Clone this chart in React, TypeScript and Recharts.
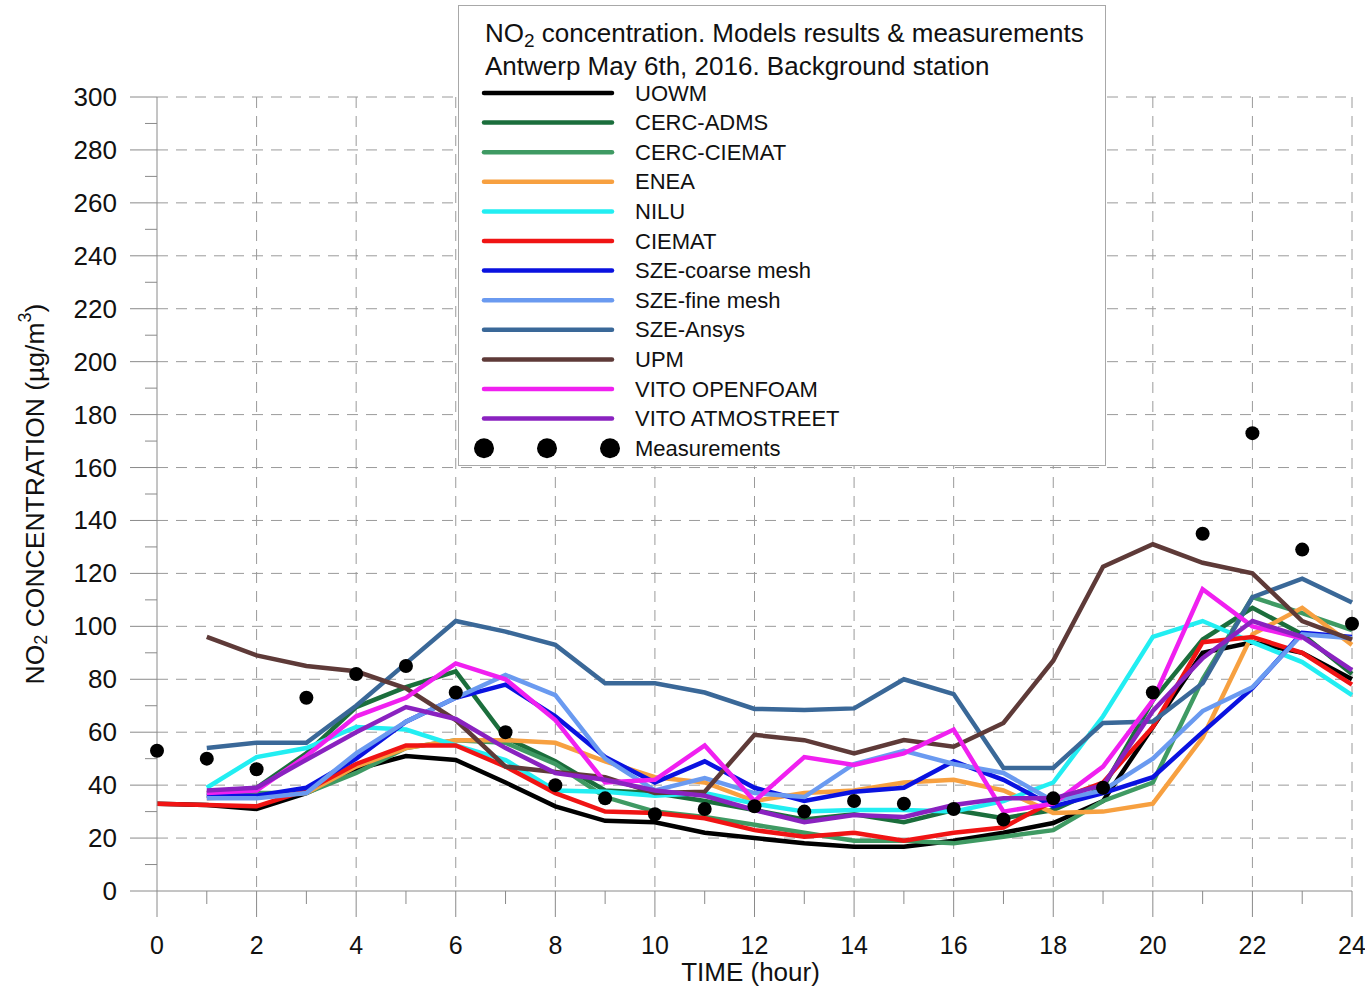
import { ComposedChart, Line, XAxis, YAxis, CartesianGrid, Legend } from "recharts";

const hours = [0, 1, 2, 3, 4, 5, 6, 7, 8, 9, 10, 11, 12, 13, 14, 15, 16, 17, 18, 19, 20, 21, 22, 23, 24];
const yTicks = [0, 10, 20, 30, 40, 50, 60, 70, 80, 90, 100, 110, 120, 130, 140, 150, 160, 170, 180, 190, 200, 210, 220, 230, 240, 250, 260, 270, 280, 290, 300];
const gridY = [20, 40, 60, 80, 100, 120, 140, 160, 180, 200, 220, 240, 260, 280, 300];
const gridX = [2, 4, 6, 8, 10, 12, 14, 16, 18, 20, 22, 24];

// model results, µg/m3, one value per hour (null = no value)
const uowm = [33, 32.5, 31, 37, 46, 51, 49.5, 41, 32, 26.5, 26, 22, 20, 18, 16.7, 16.7, 19, 22, 25.7, 34, 62, 90, 94, 90, 80];
const cercAdms = [null, 37, 39, 52, 69.5, 77, 83, 58, 49, 38, 37, 34, 30.6, 27, 29, 26, 30.6, 27.5, 30.6, 39, 72, 95, 107, 97, 82];
const cercCiemat = [null, 36, 37, 37, 44.6, 54, 57, 56, 48, 35.5, 30, 28, 25, 22, 19, 19, 18, 20.5, 23, 34, 41, 80, 111, 105, 98.6];
const enea = [null, 35, 36, 37, 47, 54, 57, 57, 56, 49, 43, 41, 34, 37, 38, 41, 42, 38, 29.5, 30, 33, 58, 97, 107, 93];
const nilu = [null, 39, 50.6, 54, 62, 61, 55, 49.5, 38, 37.5, 36, 37, 33, 30, 30.6, 30.6, 30, 34, 41, 66, 96, 102, 94, 86.5, 74];
const ciemat = [33, 32.5, 32, 38, 48, 55, 55, 47, 37, 30, 29.5, 27.5, 23, 20.5, 22, 19, 22, 24, 34, 41, 62, 94, 96, 90, 78];
const szeCoarse = [null, 36, 36, 39, 50, 64, 73, 78, 66, 50.6, 41, 49, 39, 34, 37.5, 39, 49, 42, 32, 37, 43, 60, 76.6, 97.5, 96];
const szeFine = [null, 35, 35, 37, 52, 64, 73, 81.6, 74, 50, 38, 42.7, 37, 35.5, 48, 53, 48, 44.6, 34, 38, 50, 68, 77, 97, 95.5];
const szeAnsys = [null, 54, 56, 56, 70, 86, 102, 98, 93, 78.5, 78.5, 75, 68.8, 68.4, 69, 80, 74.4, 46.5, 46.5, 63.5, 64, 78.5, 111, 118, 109];
const upm = [null, 96, 89, 85, 83, 76.6, 64.6, 47, 45, 43, 37, 37.5, 59, 57, 52, 57, 54.5, 63.5, 87, 122.5, 131, 124, 120, 102, 95];
const vitoOpenfoam = [null, 37, 38, 51, 66, 73, 86, 80, 64.6, 41, 42, 55, 34, 50.6, 47.6, 52, 61, 30, 33, 47, 72, 114, 100, 95.5, null];
const vitoAtmostreet = [null, 38, 39, 49.6, 60, 69.5, 65, 54, 44.6, 42, 38, 36, 30.6, 26, 28.7, 28, 32.5, 35, 35, 40, 68, 88, 102, 96, 83.5];
const measurements = [53, 50, 46, 73, 82, 85, 75, 60, 40, 35, 29, 31, 32, 30, 34, 33, 31, 27, 35, 39, 75, 135, 173, 129, 101];

const series = [
  { key: "uowm", name: "UOWM", color: "#000000", values: uowm },
  { key: "cercAdms", name: "CERC-ADMS", color: "#1b6e3c", values: cercAdms },
  { key: "cercCiemat", name: "CERC-CIEMAT", color: "#3f9a63", values: cercCiemat },
  { key: "enea", name: "ENEA", color: "#f7a040", values: enea },
  { key: "nilu", name: "NILU", color: "#22eef2", values: nilu },
  { key: "ciemat", name: "CIEMAT", color: "#f01414", values: ciemat },
  { key: "szeCoarse", name: "SZE-coarse mesh", color: "#0a12e0", values: szeCoarse },
  { key: "szeFine", name: "SZE-fine mesh", color: "#6a9af0", values: szeFine },
  { key: "szeAnsys", name: "SZE-Ansys", color: "#3a6898", values: szeAnsys },
  { key: "upm", name: "UPM", color: "#5e3a38", values: upm },
  { key: "vitoOpenfoam", name: "VITO OPENFOAM", color: "#f020f0", values: vitoOpenfoam },
  { key: "vitoAtmostreet", name: "VITO ATMOSTREET", color: "#8a22c0", values: vitoAtmostreet },
];

const data = hours.map((h, i) => {
  const row: Record<string, number | null> = { hour: h, meas: measurements[i] };
  series.forEach((s) => (row[s.key] = s.values[i]));
  return row;
});

const font = "'Liberation Sans', Arial, sans-serif";
const axisGray = "#8a8a8a";

const XTick = ({ x, y, payload }: any) => {
  const major = payload.value % 2 === 0;
  return (
    <g>
      <line x1={x} x2={x} y1={y} y2={y + (major ? 26 : 13)} stroke={axisGray} />
      {major && (
        <text x={x} y={y + 54} textAnchor="middle" dominantBaseline="central" fontFamily={font} fontSize={25} fill="#111">
          {payload.value}
        </text>
      )}
    </g>
  );
};

const YTick = ({ x, y, payload }: any) => {
  const major = payload.value % 20 === 0;
  return (
    <g>
      <line x1={x - (major ? 27 : 12)} x2={x} y1={y} y2={y} stroke={axisGray} />
      {major && (
        <text x={x - 40} y={y} textAnchor="end" dominantBaseline="central" fontFamily={font} fontSize={26} fill="#111">
          {payload.value}
        </text>
      )}
    </g>
  );
};

const XLabel = ({ viewBox }: any) => (
  <text x={viewBox.x + viewBox.width / 2 - 4} y={viewBox.y + 81} textAnchor="middle" dominantBaseline="central" fontFamily={font} fontSize={26} fill="#111">
    TIME (hour)
  </text>
);

const YLabel = ({ viewBox }: any) => {
  const cx = 35;
  const cy = viewBox.y + viewBox.height / 2;
  return (
    <text x={cx} y={cy} transform={`rotate(-90 ${cx} ${cy})`} textAnchor="middle" dominantBaseline="central" fontFamily={font} fontSize={26.5} fill="#111">
      NO<tspan dy={6} fontSize={18}>2</tspan>
      <tspan dy={-6}> CONCENTRATION (µg/m</tspan>
      <tspan dy={-10} fontSize={18}>3</tspan>
      <tspan dy={10}>)</tspan>
    </text>
  );
};

const LegendBox = () => (
  <svg width={648} height={461} style={{ display: "block", background: "#fff", border: "1px solid #a8a8a8", boxSizing: "border-box" }}>
    <g fontFamily={font} fill="#111">
      <text x={26} y={27} fontSize={26} dominantBaseline="central">
        NO<tspan dy={7} fontSize={19}>2</tspan>
        <tspan dy={-7}> concentration. Models results &amp; measurements</tspan>
      </text>
      <text x={26} y={60} fontSize={26} dominantBaseline="central">
        Antwerp May 6th, 2016. Background station
      </text>
      {series.map((s, i) => (
        <g key={s.key}>
          <line x1={25} x2={153} y1={87 + i * 29.6} y2={87 + i * 29.6} stroke={s.color} strokeWidth={4.5} strokeLinecap="round" />
          <text x={176} y={87 + i * 29.6} fontSize={22} dominantBaseline="central">
            {s.name}
          </text>
        </g>
      ))}
      {[25, 88, 151].map((cx) => (
        <circle key={cx} cx={cx} cy={87 + 12 * 29.6} r={10} fill="#000" />
      ))}
      <text x={176} y={87 + 12 * 29.6} fontSize={22} dominantBaseline="central">
        Measurements
      </text>
    </g>
  </svg>
);

export default function App() {
  return (
    <div style={{ position: "absolute", left: 0, top: 0, background: "#fff" }}>
      <ComposedChart width={1365} height={987} data={data} margin={{ top: 97, right: 13, left: 0, bottom: 0 }}>
        <CartesianGrid
          horizontalValues={gridY}
          verticalValues={gridX}
          stroke="#9a9a9a"
          strokeDasharray="11 8"
        />
        <XAxis
          type="number"
          dataKey="hour"
          domain={[0, 24]}
          ticks={hours}
          interval={0}
          height={96}
          stroke={axisGray}
          tickSize={0}
          tickMargin={0}
          tick={<XTick />}
          label={<XLabel />}
        />
        <YAxis
          type="number"
          domain={[0, 300]}
          ticks={yTicks}
          interval={0}
          width={157}
          stroke={axisGray}
          tickSize={0}
          tickMargin={0}
          tick={<YTick />}
          label={<YLabel />}
        />
        {series.map((s) => (
          <Line
            key={s.key}
            type="linear"
            dataKey={s.key}
            name={s.name}
            stroke={s.color}
            strokeWidth={4.5}
            dot={false}
            activeDot={false}
            isAnimationActive={false}
          />
        ))}
        <Line
          type="linear"
          dataKey="meas"
          name="Measurements"
          stroke="none"
          dot={{ r: 7, fill: "#000", stroke: "none" }}
          activeDot={false}
          isAnimationActive={false}
        />
        <Legend
          layout="vertical"
          align="center"
          verticalAlign="middle"
          wrapperStyle={{ left: 458, top: 5, width: 648, height: 461 }}
          content={() => <LegendBox />}
        />
      </ComposedChart>
    </div>
  );
}
